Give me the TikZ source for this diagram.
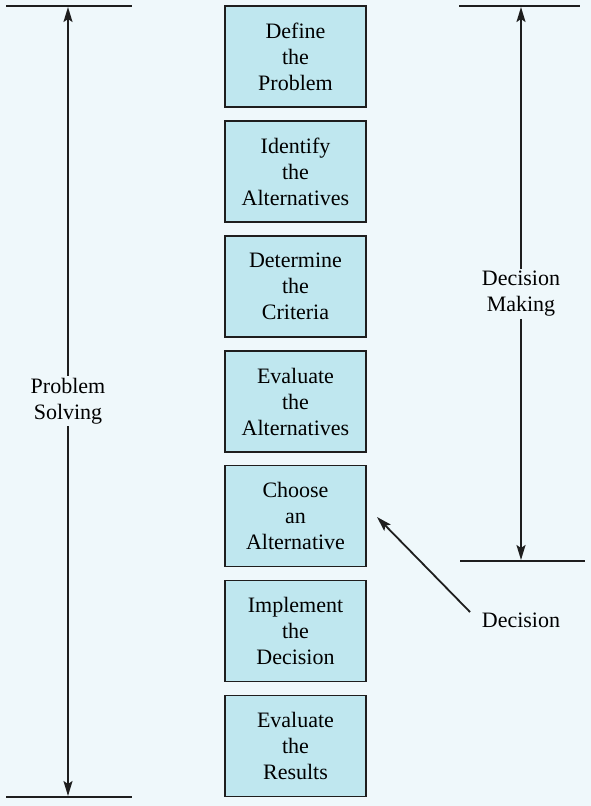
\documentclass[tikz,border=0pt]{standalone}
\usepackage{fontspec}
\setmainfont{Liberation Serif}
\usetikzlibrary{arrows.meta}
\definecolor{bgc}{HTML}{EFF8FB}
\definecolor{boxc}{HTML}{BFE7EF}
\definecolor{linec}{HTML}{1E1E1E}
\begin{document}
\begin{tikzpicture}[x=1pt,y=-1pt,
  stepbox/.style={draw=linec,line width=1.2pt,fill=boxc,minimum width=141pt,minimum height=101pt,
    inner sep=0pt,align=center,font=\fontsize{22}{26}\selectfont},
  lbl/.style={align=center,font=\fontsize{22}{26}\selectfont,inner sep=2pt},
  rule/.style={draw=linec,line width=1.8pt},
  arr/.style={draw=linec,line width=1.8pt,-{Stealth[length=15pt,width=9pt,inset=3pt]}}]
\fill[bgc] (0,0) rectangle (591,806);
\useasboundingbox (0,0) rectangle (591,806);
\node[stepbox] (b1) at (295.5,56.5) {Define\\the\\Problem};
\node[stepbox] (b2) at (295.5,171.5) {Identify\\the\\Alternatives};
\node[stepbox] (b3) at (295.5,286.5) {Determine\\the\\Criteria};
\node[stepbox] (b4) at (295.5,401.5) {Evaluate\\the\\Alternatives};
\node[stepbox] (b5) at (295.5,516) {Choose\\an\\Alternative};
\node[stepbox] (b6) at (295.5,631) {Implement\\the\\Decision};
\node[stepbox] (b7) at (295.5,746) {Evaluate\\the\\Results};
% left bracket
\coordinate (lt1) at (6,6); \coordinate (lt2) at (132,6);
\coordinate (lb1) at (6,797); \coordinate (lb2) at (132,797);
\coordinate (lta) at (68,7); \coordinate (lba) at (68,796);
\draw[rule] (lt1) -- (lt2);
\draw[rule] (lb1) -- (lb2);
\node[lbl] (ps) at (68,401) {Problem\\Solving};
\draw[arr] (ps.north) -- (lta);
\draw[arr] (ps.south) -- (lba);
% right bracket
\coordinate (rt1) at (459,6); \coordinate (rt2) at (580,6);
\coordinate (rb1) at (460,561); \coordinate (rb2) at (585,561);
\coordinate (rta) at (521,7); \coordinate (rba) at (521,560);
\draw[rule] (rt1) -- (rt2);
\draw[rule] (rb1) -- (rb2);
\node[lbl] (dm) at (521,294) {Decision\\Making};
\draw[arr] (dm.north) -- (rta);
\draw[arr] (dm.south) -- (rba);
% decision
\node[lbl] (dec) at (521,620) {Decision};
\coordinate (dtip) at (377,517);
\coordinate (dtail) at (470,612);
\draw[arr] (dtail) -- (dtip);
\end{tikzpicture}
\end{document}
